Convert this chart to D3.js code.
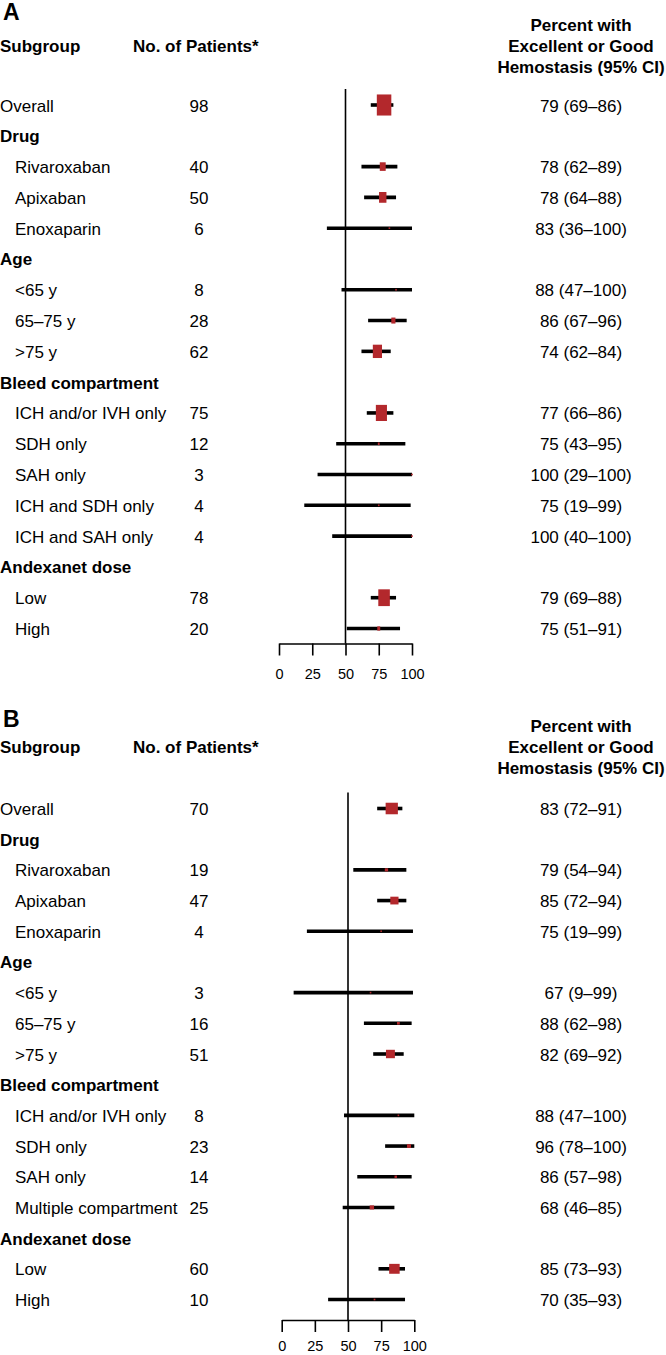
<!DOCTYPE html>
<html><head><meta charset="utf-8">
<script src="https://cdn.jsdelivr.net/npm/d3@7"></script>
<style>body{margin:0;background:#fff} svg{display:block}</style>
</head><body><svg id="chart" width="666" height="1355"></svg>
<script>
// ---------- Data ----------
const headerTitles = ["Subgroup", "No. of Patients*"];
const effectTitle = ["Percent with", "Excellent or Good", "Hemostasis (95% CI)"];
const axisTicks = [0, 25, 50, 75, 100];

const subgroupsA = ["Overall", "Drug", "Rivaroxaban", "Apixaban", "Enoxaparin", "Age", "<65 y", "65–75 y", ">75 y",
  "Bleed compartment", "ICH and/or IVH only", "SDH only", "SAH only", "ICH and SDH only", "ICH and SAH only",
  "Andexanet dose", "Low", "High"];
const patientsA = [98, null, 40, 50, 6, null, 8, 28, 62, null, 75, 12, 3, 4, 4, null, 78, 20];
const percentA  = [79, null, 78, 78, 83, null, 88, 86, 74, null, 77, 75, 100, 75, 100, null, 79, 75];
const lowerA    = [69, null, 62, 64, 36, null, 47, 67, 62, null, 66, 43, 29, 19, 40, null, 69, 51];
const upperA    = [86, null, 89, 88, 100, null, 100, 96, 84, null, 86, 95, 100, 99, 100, null, 88, 91];

const subgroupsB = ["Overall", "Drug", "Rivaroxaban", "Apixaban", "Enoxaparin", "Age", "<65 y", "65–75 y", ">75 y",
  "Bleed compartment", "ICH and/or IVH only", "SDH only", "SAH only", "Multiple compartment",
  "Andexanet dose", "Low", "High"];
const patientsB = [70, null, 19, 47, 4, null, 3, 16, 51, null, 8, 23, 14, 25, null, 60, 10];
const percentB  = [83, null, 79, 85, 75, null, 67, 88, 82, null, 88, 96, 86, 68, null, 85, 70];
const lowerB    = [72, null, 54, 72, 19, null, 9, 62, 69, null, 47, 78, 57, 46, null, 73, 35];
const upperB    = [91, null, 94, 94, 99, null, 99, 98, 92, null, 100, 100, 98, 85, null, 93, 93];

// ---------- Drawing ----------
const FONT = "'Liberation Sans', Arial, Helvetica, sans-serif";
const RED = "#b3282c";
const svg = d3.select("#chart").attr("font-family", FONT);

function drawPanel(cfg) {
  const g = svg.append("g");
  const rows = cfg.labels.map((label, i) => ({
    label, i, n: cfg.n[i], p: cfg.p[i], lo: cfg.lo[i], hi: cfg.hi[i]
  }));
  const y = d3.scaleLinear().domain([0, rows.length - 1]).range([cfg.firstRow, cfg.lastRow]);
  const x = d3.scaleLinear().domain([0, 100]).range(cfg.xRange);
  const boxW = d3.scaleLinear().domain([0, 100]).range([0, cfg.boxW100]);
  const boxH = d3.scaleLinear().domain([0, 100]).range([0, cfg.boxH100]);
  const axisY = cfg.lastRow + cfg.axisGap;

  // panel letter
  g.append("text").attr("x", 3).attr("y", cfg.letterBase)
    .attr("font-size", 23).attr("font-weight", "bold").text(cfg.letter);

  // column headers
  g.append("text").attr("x", 0).attr("y", cfg.headBase).attr("font-size", 17)
    .attr("font-weight", "bold").text(headerTitles[0]);
  g.append("text").attr("x", 133).attr("y", cfg.headBase).attr("font-size", 17)
    .attr("font-weight", "bold").text(headerTitles[1]);
  g.append("g").selectAll("text").data(effectTitle).join("text")
    .attr("x", 581).attr("y", (d, k) => cfg.headBase + (k - 1) * 21.3)
    .attr("text-anchor", "middle").attr("font-size", 17).attr("font-weight", "bold").text(d => d);

  // row labels
  g.append("g").selectAll("text").data(rows).join("text")
    .attr("x", d => (d.n == null || d.i === 0) ? 0 : 15)
    .attr("y", d => y(d.i) + 6.5)
    .attr("font-size", 17)
    .attr("font-weight", d => d.n == null ? "bold" : "normal")
    .text(d => d.label);

  const data = rows.filter(d => d.n != null);
  // patients
  g.append("g").selectAll("text").data(data).join("text")
    .attr("x", 199).attr("y", d => y(d.i) + 6.5).attr("text-anchor", "middle")
    .attr("font-size", 17).text(d => d.n);
  // percent text
  g.append("g").selectAll("text").data(data).join("text")
    .attr("x", 581).attr("y", d => y(d.i) + 6.5).attr("text-anchor", "middle")
    .attr("font-size", 17).text(d => `${d.p} (${d.lo}–${d.hi})`);

  // reference line at 50
  g.append("line").attr("x1", x(50)).attr("x2", x(50))
    .attr("y1", cfg.firstRow - 16).attr("y2", axisY)
    .attr("stroke", "#000").attr("stroke-width", 1.6);

  // CI lines
  g.append("g").selectAll("line").data(data).join("line")
    .attr("x1", d => x(d.lo)).attr("x2", d => x(d.hi))
    .attr("y1", d => y(d.i)).attr("y2", d => y(d.i))
    .attr("stroke", "#000").attr("stroke-width", 3.6);

  // boxes
  g.append("g").selectAll("rect").data(data).join("rect")
    .attr("x", d => x(d.p) - Math.max(1.6, boxW(d.n)) / 2)
    .attr("y", d => y(d.i) - Math.max(1.6, boxH(d.n)) / 2)
    .attr("width", d => Math.max(1.6, boxW(d.n)))
    .attr("height", d => Math.max(1.6, boxH(d.n)))
    .attr("fill", RED);

  // axis
  const ax = g.append("g").attr("transform", `translate(0,${axisY})`)
    .call(d3.axisBottom(x).tickValues(axisTicks).tickSize(12).tickSizeOuter(0).tickPadding(cfg.tickPad));
  ax.select(".domain").attr("stroke", "#000").attr("stroke-width", 1.6);
  ax.selectAll(".tick line").attr("stroke", "#000").attr("stroke-width", 1.6);
  ax.selectAll(".tick text").attr("font-family", FONT).attr("font-size", 14.5).attr("fill", "#000");
}

drawPanel({
  letter: "A", letterBase: 20, headBase: 52,
  labels: subgroupsA, n: patientsA, p: percentA, lo: lowerA, hi: upperA,
  firstRow: 105, lastRow: 628.5, axisGap: 15, tickPad: 13,
  xRange: [279, 412], boxW100: 14.8, boxH100: 21.5
});
drawPanel({
  letter: "B", letterBase: 727, headBase: 753,
  labels: subgroupsB, n: patientsB, p: percentB, lo: lowerB, hi: upperB,
  firstRow: 808.5, lastRow: 1299.5, axisGap: 20.5, tickPad: 9,
  xRange: [281.7, 414.3], boxW100: 17.5, boxH100: 16.5
});
</script>
</body></html>
